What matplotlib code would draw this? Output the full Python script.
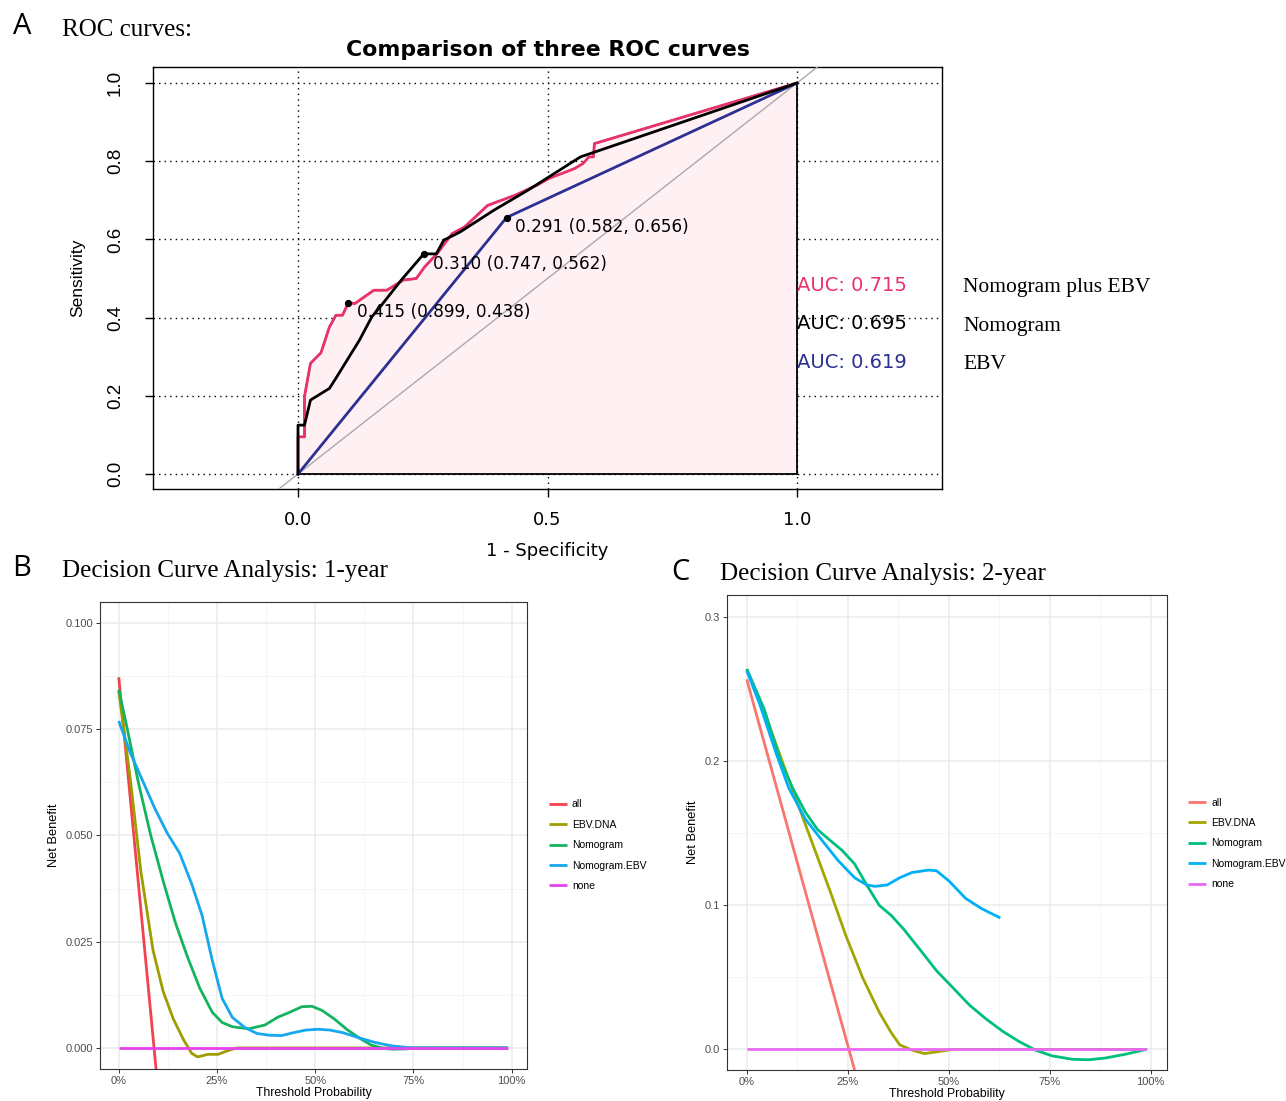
import matplotlib
matplotlib.use("Agg")
import matplotlib.pyplot as plt
import numpy as np
from matplotlib.ticker import MultipleLocator, PercentFormatter

# ------------------------------------------------------------------ data --- #

# ROC curves (x = 1 - specificity, y = sensitivity)
roc_plus_x = [0, 0, 0.013, 0.013, 0.025, 0.046, 0.063, 0.076, 0.089, 0.101, 0.114,
              0.152, 0.178, 0.211, 0.237, 0.254, 0.279, 0.309, 0.334, 0.380, 0.435,
              0.478, 0.503, 0.554, 0.571, 0.583, 0.592, 0.594, 1.0]
roc_plus_y = [0, 0.095, 0.095, 0.198, 0.283, 0.310, 0.376, 0.406, 0.406, 0.438, 0.436,
              0.470, 0.470, 0.496, 0.500, 0.530, 0.564, 0.615, 0.632, 0.687, 0.713,
              0.738, 0.756, 0.781, 0.794, 0.811, 0.811, 0.845, 1.0]

roc_nomo_x = [0, 0, 0.013, 0.025, 0.063, 0.076, 0.123, 0.148, 0.165, 0.207, 0.252,
              0.277, 0.292, 0.325, 0.393, 0.461, 0.503, 0.566, 0.596, 1.0]
roc_nomo_y = [0, 0.125, 0.125, 0.189, 0.219, 0.245, 0.342, 0.402, 0.428, 0.496, 0.563,
              0.563, 0.598, 0.619, 0.675, 0.726, 0.760, 0.811, 0.824, 1.0]

roc_ebv_x = [0, 0.418, 1.0]
roc_ebv_y = [0, 0.656, 1.0]

# best thresholds: (x, y, label)
thr_x = [0.101, 0.253, 0.418]
thr_y = [0.438, 0.562, 0.656]
thr_lab = ["0.415 (0.899, 0.438)", "0.310 (0.747, 0.562)", "0.291 (0.582, 0.656)"]

auc_lab = ["AUC: 0.715", "AUC: 0.695", "AUC: 0.619"]
auc_y = [0.483, 0.384, 0.284]
model_names = ["Nomogram plus EBV", "Nomogram", "EBV"]
roc_cols = ["#E8336B", "black", "#2B3092"]

# Decision curves, 1-year
dca_names = ["all", "EBV.DNA", "Nomogram", "Nomogram.EBV", "none"]

b_all_x = [0, 0.095]
b_all_y = [0.0872, -0.0050]

b_ebv_x = [0, 0.015, 0.030, 0.056, 0.087, 0.113, 0.139, 0.165, 0.186, 0.201, 0.227,
           0.253, 0.279, 0.30, 0.99]
b_ebv_y = [0.0839, 0.0735, 0.0628, 0.0417, 0.0231, 0.0133, 0.0068, 0.0019, -0.0013,
           -0.0021, -0.0015, -0.0015, -0.0006, 0, 0]

b_nomo_x = [0, 0.020, 0.051, 0.082, 0.113, 0.144, 0.175, 0.206, 0.238, 0.263, 0.289,
            0.331, 0.372, 0.404, 0.435, 0.466, 0.492, 0.518, 0.549, 0.580, 0.611,
            0.642, 0.673, 0.699, 0.735, 0.767, 0.99]
b_nomo_y = [0.0843, 0.0758, 0.0620, 0.0498, 0.0393, 0.0295, 0.0214, 0.0141, 0.0084,
            0.0060, 0.0050, 0.0045, 0.0054, 0.0072, 0.0084, 0.0097, 0.0098, 0.0088,
            0.0068, 0.0044, 0.0024, 0.0007, -0.0001, -0.0003, -0.0002, 0, 0]

b_nebv_x = [0, 0.030, 0.061, 0.092, 0.123, 0.155, 0.186, 0.212, 0.238, 0.263, 0.289,
            0.321, 0.352, 0.383, 0.414, 0.445, 0.476, 0.507, 0.538, 0.570, 0.611,
            0.652, 0.694, 0.735, 0.767, 0.99]
b_nebv_y = [0.0769, 0.0693, 0.0628, 0.0563, 0.0506, 0.0458, 0.0385, 0.0312, 0.0206,
            0.0117, 0.0072, 0.0048, 0.0034, 0.0030, 0.0029, 0.0036, 0.0042, 0.0044,
            0.0042, 0.0036, 0.0024, 0.0013, 0.0005, 0.0001, 0, 0]

b_none_x = [0, 0.99]
b_none_y = [0, 0]

# Decision curves, 2-year
c_all_x = [0, 0.267]
c_all_y = [0.2565, -0.0143]

c_ebv_x = [0, 0.043, 0.0835, 0.124, 0.165, 0.206, 0.246, 0.287, 0.328, 0.358, 0.379,
           0.409, 0.440, 0.470, 0.511, 0.99]
c_ebv_y = [0.2637, 0.234, 0.203, 0.172, 0.141, 0.110, 0.0784, 0.0497, 0.0258, 0.0115,
           0.0031, -0.0005, -0.0029, -0.0017, 0, 0]

c_nomo_x = [0, 0.043, 0.0835, 0.114, 0.145, 0.175, 0.206, 0.236, 0.267, 0.297, 0.328,
            0.358, 0.389, 0.430, 0.470, 0.511, 0.552, 0.593, 0.633, 0.674, 0.715,
            0.756, 0.807, 0.847, 0.888, 0.939, 0.990]
c_nomo_y = [0.2637, 0.236, 0.2003, 0.181, 0.1645, 0.1525, 0.145, 0.138, 0.1286, 0.114,
            0.0999, 0.0928, 0.0832, 0.0688, 0.0545, 0.0426, 0.0306, 0.0210, 0.0127,
            0.0055, -0.0005, -0.0045, -0.0069, -0.0072, -0.0060, -0.0033, 0]

c_nebv_x = [0, 0.033, 0.073, 0.104, 0.145, 0.185, 0.226, 0.267, 0.297, 0.318, 0.348,
            0.379, 0.409, 0.450, 0.470, 0.501, 0.542, 0.582, 0.628]
c_nebv_y = [0.2625, 0.2386, 0.2051, 0.1812, 0.1597, 0.1454, 0.131, 0.119, 0.114,
            0.113, 0.114, 0.119, 0.1226, 0.1243, 0.1238, 0.1167, 0.1047, 0.0975, 0.0911]

c_none_x = [0, 0.99]
c_none_y = [0, 0]

cols_b = ["#F3424E", "#9E9C00", "#14B45E", "#17A7EF", "#E842EE"]
cols_c = ["#F8766D", "#A3A500", "#00BF7D", "#00B0F6", "#E76BF3"]

# ---------------------------------------------------------------- figure --- #

W, H = 1286, 1101
fig = plt.figure(figsize=(W / 100, H / 100), dpi=100)
SANS = ["Liberation Sans", "DejaVu Sans"]
WIDE = ["DejaVu Sans"]          # the R panel is a bit stretched sideways
SERIF = ["Liberation Serif", "DejaVu Serif"]
plt.rcParams["font.family"] = SANS


def box(l, t, r, b):
    return [l / W, 1 - b / H, (r - l) / W, (b - t) / H]


# panel letters and headings
for (x, y, s) in [(22, 27, "A"), (22, 569, "B"), (680, 572, "C")]:
    fig.text(x / W, 1 - y / H, s, fontsize=21, family=["Open Sans", "DejaVu Sans"],
             ha="center", va="center")
for (x, y, s) in [(62, 30, "ROC curves:"), (62, 571, "Decision Curve Analysis: 1-year"),
                  (720, 574, "Decision Curve Analysis: 2-year")]:
    fig.text(x / W, 1 - y / H, s, fontsize=18, family=SERIF, ha="left", va="center")

# ---- A : ROC
ax = fig.add_axes(box(153, 67, 942, 489))
ax.set_xlim((153 - 298) / 499, (942 - 298) / 499)
ax.set_ylim((474 - 489) / 391, (474 - 67) / 391)

dot = (0, (1, 3))
for v in [0, 0.5, 1.0]:
    ax.axvline(v, color="black", lw=1, ls=dot, zorder=1)
for v in np.arange(0, 1.01, 0.2):
    ax.axhline(v, color="black", lw=1, ls=dot, zorder=1)

ax.fill(roc_plus_x + [1.0, 0], roc_plus_y + [0, 0], facecolor="#FFF0F4",
        edgecolor="black", lw=1.3, zorder=2)
ax.axline((0, 0), slope=1, color="#AAAAAA", lw=1, zorder=3)

ax.plot(roc_plus_x, roc_plus_y, color=roc_cols[0], lw=2, zorder=4)
ax.plot(roc_nomo_x, roc_nomo_y, color=roc_cols[1], lw=2, zorder=5)
ax.plot(roc_ebv_x, roc_ebv_y, color=roc_cols[2], lw=2, zorder=4)
ax.scatter(thr_x, thr_y, s=18, color="black", zorder=6)
for x, y, s in zip(thr_x, thr_y, thr_lab):
    ax.annotate(s, (x, y), xytext=(6, -7), textcoords="offset points",
                fontsize=12.2, family=WIDE, ha="left", va="center", zorder=7)

for y, s, c in zip(auc_y, auc_lab, roc_cols):
    ax.text(1.0, y, s, color=c, fontsize=14, family=WIDE, ha="left", va="center",
            zorder=7)
for y, s in zip([0.478, 0.376, 0.281], model_names):
    ax.text((963 - 298) / 499, y, s, fontsize=15.5, family=SERIF, ha="left",
            va="center", clip_on=False)

ax.set_title("Comparison of three ROC curves", fontsize=15.8, fontweight="bold",
             family=WIDE, pad=8)
ax.set_xticks([0, 0.5, 1.0])
ax.set_xticklabels(["0.0", "0.5", "1.0"], family=WIDE, fontsize=13)
ax.set_yticks(np.arange(0, 1.01, 0.2))
ax.set_yticklabels(["0.0", "0.2", "0.4", "0.6", "0.8", "1.0"], rotation=90, va="center",
                   fontsize=13.5)
ax.tick_params(axis="both", length=6, width=1, color="black")
ax.tick_params(axis="x", pad=10)
ax.tick_params(axis="y", pad=15)
ax.set_xlabel("1 - Specificity", fontsize=13, family=WIDE)
ax.set_ylabel("Sensitivity", fontsize=12.5)
ax.xaxis.set_label_coords(0.5, (489 - 542) / 422)
ax.yaxis.set_label_coords((85 - 153) / 789, 0.5)
for sp in ax.spines.values():
    sp.set_linewidth(1)


# ---- B / C : decision curves
def dca_panel(rect, xlim, ylim, ymajor, yfmt, series, cols, leg_xy):
    a = fig.add_axes(rect)
    a.set_xlim(*xlim)
    a.set_ylim(*ylim)
    a.xaxis.set_major_locator(MultipleLocator(0.25))
    a.xaxis.set_minor_locator(MultipleLocator(0.125))
    a.yaxis.set_major_locator(MultipleLocator(ymajor))
    a.yaxis.set_minor_locator(MultipleLocator(ymajor / 2))
    a.xaxis.set_major_formatter(PercentFormatter(1.0, decimals=0))
    a.yaxis.set_major_formatter(plt.FormatStrFormatter(yfmt))
    a.grid(which="major", color="#EBEBEB", lw=1.1)
    a.grid(which="minor", color="#F4F4F4", lw=0.6)
    a.set_axisbelow(True)
    for (xs, ys), c, n in zip(series, cols, dca_names):
        a.plot(xs, ys, color=c, lw=2, label=n, solid_capstyle="butt")
    for sp in a.spines.values():
        sp.set_color("#333333")
        sp.set_linewidth(0.8)
    a.tick_params(which="major", length=3, width=0.7, color="#333333",
                  labelsize=8, labelcolor="#4D4D4D", pad=2)
    a.tick_params(which="minor", length=0)
    a.set_xlabel("Threshold Probability", fontsize=8.8, labelpad=1)
    a.set_ylabel("Net Benefit", fontsize=9.3, labelpad=4)
    a.legend(loc="center left", bbox_to_anchor=leg_xy, frameon=False, fontsize=7.5,
             handlelength=1.7, handletextpad=0.5, labelspacing=1.0, borderpad=0,
             borderaxespad=0)
    return a


dca_panel(box(100, 602, 527, 1069), (-0.0477, 1.039), (-0.00495, 0.1049), 0.025, "%.3f",
          [(b_all_x, b_all_y), (b_ebv_x, b_ebv_y), (b_nomo_x, b_nomo_y),
           (b_nebv_x, b_nebv_y), (b_none_x, b_none_y)], cols_b, (1.0515, 0.479))

dca_panel(box(727, 595, 1167, 1070), (-0.0489, 1.0407), (-0.0143, 0.315), 0.1, "%.1f",
          [(c_all_x, c_all_y), (c_ebv_x, c_ebv_y), (c_nomo_x, c_nomo_y),
           (c_nebv_x, c_nebv_y), (c_none_x, c_none_y)], cols_c, (1.048, 0.477))

plt.savefig("out.png", dpi=100)
